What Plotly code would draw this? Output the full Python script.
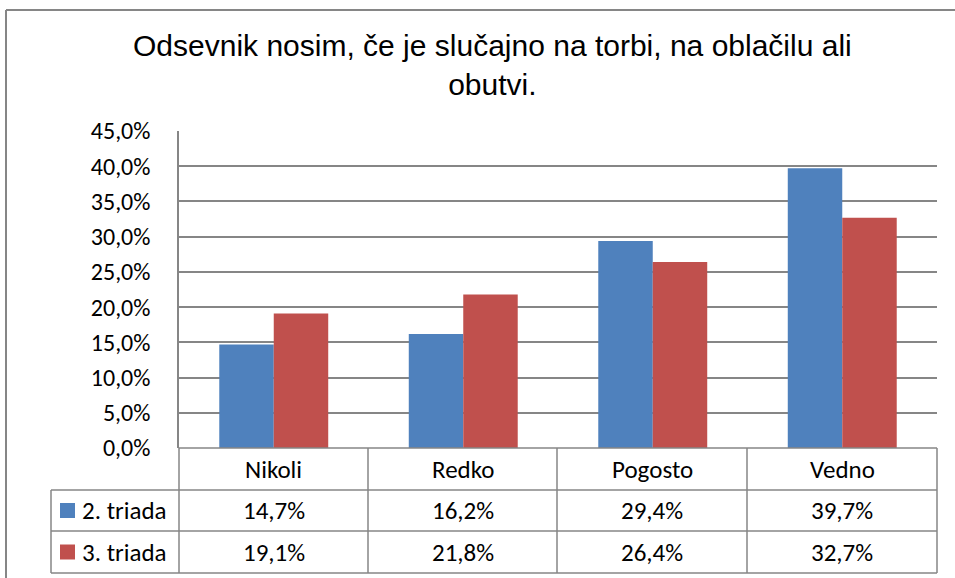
import plotly.graph_objects as go

# data
categories = ["Nikoli", "Redko", "Pogosto", "Vedno"]
series_names = ["2. triada", "3. triada"]
triada2 = [14.7, 16.2, 29.4, 39.7]
triada3 = [19.1, 21.8, 26.4, 32.7]
colors = ["#4F81BD", "#C0504D"]

title_text = "Odsevnik nosim, če je slučajno na torbi, na oblačilu ali<br>obutvi."

W, H = 955, 578
GRID = "#868686"
FONT = "Carlito, Lato"


def px(x):
    return x / W


def py(y):
    return 1 - y / H


# plot area in pixels
left, right, top, bottom = 179, 937, 131, 448
row_y = [448, 490, 531, 573]
col_x = [179, 368, 557, 747, 937]
legend_left = 51

fig = go.Figure()
for name, vals, col in zip(series_names, [triada2, triada3], colors):
    fig.add_trace(go.Bar(x=categories, y=vals, name=name, marker_color=col,
                         marker_line_width=0))

shapes = []
line = dict(color=GRID, width=1.5)

# outer chart border (top and left visible)
shapes.append(dict(type="line", xref="paper", yref="paper",
                   x0=px(6), x1=1, y0=py(10), y1=py(10), line=dict(color=GRID, width=2)))
shapes.append(dict(type="line", xref="paper", yref="paper",
                   x0=px(6), x1=px(6), y0=py(10), y1=0, line=dict(color=GRID, width=2)))

# data table lines
shapes.append(dict(type="line", xref="paper", yref="paper",
                   x0=px(left), x1=px(right), y0=py(row_y[0]), y1=py(row_y[0]), line=line))
for yy in row_y[1:]:
    shapes.append(dict(type="line", xref="paper", yref="paper",
                       x0=px(legend_left), x1=px(right), y0=py(yy), y1=py(yy), line=line))
shapes.append(dict(type="line", xref="paper", yref="paper",
                   x0=px(legend_left), x1=px(legend_left), y0=py(row_y[1]), y1=py(row_y[3]), line=line))
for xx in col_x:
    shapes.append(dict(type="line", xref="paper", yref="paper",
                       x0=px(xx), x1=px(xx), y0=py(row_y[0]), y1=py(row_y[3]), line=line))

annotations = []
# category header row
for i, cat in enumerate(categories):
    cx = (col_x[i] + col_x[i + 1]) / 2
    annotations.append(dict(x=px(cx), y=py((row_y[0] + row_y[1]) / 2), xref="paper", yref="paper",
                            text=cat, showarrow=False, xanchor="center", yanchor="middle",
                            font=dict(family=FONT, size=25, color="black")))

# value rows with legend keys
for r, (name, vals, col) in enumerate(zip(series_names, [triada2, triada3], colors)):
    y0, y1 = row_y[r + 1], row_y[r + 2]
    cy = (y0 + y1) / 2
    shapes.append(dict(type="rect", xref="paper", yref="paper",
                       x0=px(60), x1=px(75), y0=py(cy - 7.5), y1=py(cy + 7.5),
                       fillcolor=col, line=dict(width=0)))
    annotations.append(dict(x=px(80), y=py(cy), xref="paper", yref="paper",
                            text=name, showarrow=False, xanchor="left", yanchor="middle",
                            font=dict(family=FONT, size=25, color="black")))
    for i, v in enumerate(vals):
        cx = (col_x[i] + col_x[i + 1]) / 2
        annotations.append(dict(x=px(cx), y=py(cy), xref="paper", yref="paper",
                                text=f"{v:.1f}%".replace(".", ","), showarrow=False,
                                xanchor="center", yanchor="middle",
                                font=dict(family=FONT, size=25, color="black")))

# title
annotations.append(dict(x=px(492), y=py(65), xref="paper", yref="paper",
                        text=title_text, showarrow=False, xanchor="center", yanchor="middle",
                        font=dict(family="Liberation Sans", size=30, color="black")))

fig.update_layout(
    width=W, height=H,
    margin=dict(l=0, r=0, t=0, b=0, autoexpand=False),
    paper_bgcolor="white", plot_bgcolor="white",
    separators=",.",
    barmode="group", bargap=0.425, bargroupgap=0,
    showlegend=False,
    shapes=shapes, annotations=annotations,
    xaxis=dict(domain=[px(left), px(right)], showticklabels=False, showgrid=False,
               zeroline=False, showline=False, ticks="", automargin=False),
    yaxis=dict(domain=[py(bottom), py(top)], range=[0, 45], dtick=5,
               tickformat=".1f", ticksuffix="%",
               showgrid=True, gridcolor=GRID, gridwidth=1.5,
               showline=True, linecolor=GRID, linewidth=1.5,
               zeroline=False, ticks="", ticklabelstandoff=22, automargin=False,
               tickfont=dict(family=FONT, size=24, color="black")),
)

fig.write_html("out.html", config={"displayModeBar": False},
               post_script="document.body.style.margin = '0';")
